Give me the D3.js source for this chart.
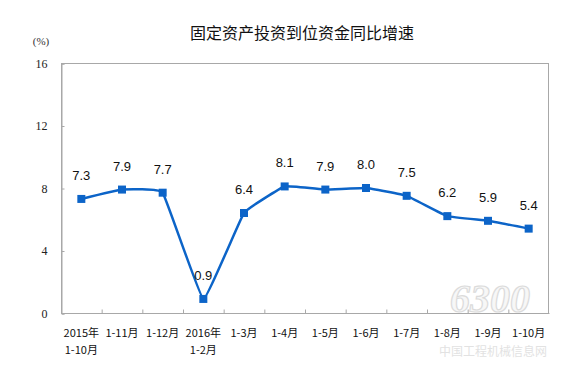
<!DOCTYPE html>
<html><head><meta charset="utf-8">
<script src="https://cdn.jsdelivr.net/npm/d3@7"></script>
<style>body{margin:0;background:#fff}</style>
</head><body>
<svg id="c" width="580" height="380"></svg>
<script>
const categories = [["2015年","1-10月"],["1-11月"],["1-12月"],["2016年","1-2月"],["1-3月"],["1-4月"],["1-5月"],["1-6月"],["1-7月"],["1-8月"],["1-9月"],["1-10月"]];
const values = [7.3, 7.9, 7.7, 0.9, 6.4, 8.1, 7.9, 8.0, 7.5, 6.2, 5.9, 5.4];
const yTicks = [0, 4, 8, 12, 16];
const title = "固定资产投资到位资金同比增速";
const unit = "(%)";

const svg = d3.select("#c");
const L = 61, R = 549, T = 63, B = 313;
const x = d3.scaleBand().domain(d3.range(categories.length)).range([L, R]);
const y = d3.scaleLinear().domain([0, 16]).range([B, T]);
const axisCol = "#a8a8a8";
const blue = "#0c64c8";

// watermark
const wm = svg.append("g").attr("opacity", 0.6);
wm.append("text").attr("x", 490).attr("y", 312).attr("text-anchor", "middle")
  .attr("font-family", "Liberation Serif").attr("font-style", "italic").attr("font-weight", "bold")
  .attr("font-size", 40).attr("fill", "#f2f2f2").attr("stroke", "#c4c4c4").attr("stroke-width", 1.2).text("6300");
wm.append("text").attr("x", 493).attr("y", 356).attr("text-anchor", "middle")
  .attr("font-family", "Noto Sans CJK SC").attr("font-size", 12).attr("fill", "#cfcfcf").text("中国工程机械信息网");

// frame
svg.append("rect").attr("x", L + 0.5).attr("y", T + 0.5).attr("width", R - L - 1).attr("height", B - T)
  .attr("fill", "none").attr("stroke", axisCol);

// y axis
const ya = svg.append("g").attr("transform", `translate(${L + 0.5},0.5)`)
  .call(d3.axisLeft(y).tickValues(yTicks).tickSize(-3).tickPadding(14));
ya.select(".domain").attr("stroke", axisCol);
ya.selectAll("line").attr("stroke", axisCol);
ya.selectAll("text").attr("font-family", "Liberation Serif").attr("font-size", 12).attr("fill", "#222");

// x axis ticks (between categories)
const xa = svg.append("g").attr("transform", `translate(0.5,${B + 0.5})`);
xa.append("line").attr("x1", L).attr("x2", R).attr("stroke", axisCol);
xa.selectAll("line.t").data(d3.range(1, categories.length)).join("line").attr("class", "t")
  .attr("x1", i => x(i)).attr("x2", i => x(i)).attr("y1", 0).attr("y2", -4).attr("stroke", axisCol);

// category labels
categories.forEach((lines, i) => {
  lines.forEach((t, k) => {
    svg.append("text").attr("x", x(i) + x.bandwidth() / 2).attr("y", 337 + k * 17)
      .attr("text-anchor", "middle").attr("font-family", "Noto Sans CJK SC").attr("font-size", 11)
      .attr("fill", "#111").text(t);
  });
});

// line
const cx = i => x(i) + x.bandwidth() / 2;
const line = d3.line().x((d, i) => cx(i)).y(d => y(d)).curve(d3.curveCardinal.tension(0.75));
svg.append("path").datum(values).attr("d", line).attr("fill", "none").attr("stroke", blue).attr("stroke-width", 2.5);

svg.selectAll("rect.m").data(values).join("rect").attr("class", "m")
  .attr("x", (d, i) => cx(i) - 4).attr("y", d => y(d) - 4).attr("width", 8).attr("height", 8).attr("fill", blue);

svg.selectAll("text.v").data(values).join("text").attr("class", "v")
  .attr("x", (d, i) => cx(i)).attr("y", d => y(d) - 19)
  .attr("text-anchor", "middle").attr("font-family", "Liberation Sans").attr("font-size", 13)
  .attr("fill", "#111").text(d => d.toFixed(1));

// title & unit
svg.append("text").attr("x", 302).attr("y", 39).attr("text-anchor", "middle")
  .attr("font-family", "Noto Sans CJK SC").attr("font-size", 16).attr("fill", "#111").text(title);
svg.append("text").attr("x", 41).attr("y", 45).attr("text-anchor", "middle")
  .attr("font-family", "Liberation Serif").attr("font-size", 11).attr("fill", "#333").text(unit);
</script>
</body></html>
